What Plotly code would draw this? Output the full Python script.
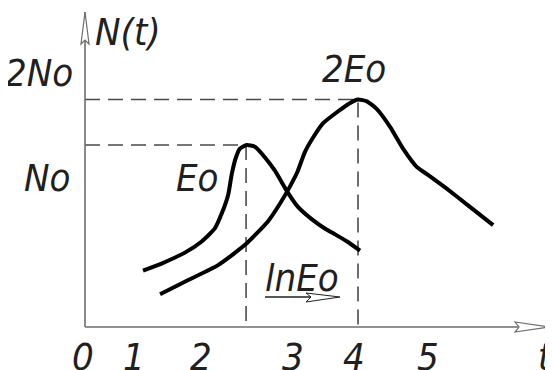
import plotly.graph_objects as go

# curve for Eo (single energy)
t_eo = [0.85, 1.13, 1.47, 1.71, 1.90, 2.01, 2.10, 2.15, 2.21, 2.27, 2.37, 2.49, 2.64,
        2.78, 2.97, 3.12, 3.33, 3.52, 3.66, 3.84, 4.03]
n_eo = [0.31, 0.35, 0.41, 0.47, 0.54, 0.63, 0.73, 0.84, 0.93, 0.98, 1.00, 0.99, 0.93,
        0.86, 0.74, 0.66, 0.59, 0.54, 0.51, 0.47, 0.42]

# curve for 2Eo
t_2eo = [1.10, 1.47, 1.95, 2.34, 2.68, 2.86, 3.00, 3.11, 3.22, 3.34, 3.49, 3.69, 3.88,
         4.00, 4.13, 4.27, 4.47, 4.66, 4.86, 5.01, 5.30, 5.64, 5.98]
n_2eo = [0.18, 0.25, 0.34, 0.45, 0.58, 0.68, 0.77, 0.85, 0.96, 1.04, 1.12, 1.18, 1.23,
         1.25, 1.24, 1.20, 1.10, 0.98, 0.88, 0.84, 0.76, 0.66, 0.56]

peak_t = [2.36, 4.00]
peak_n = [1.00, 1.25]
peak_labels = ['Eo', '2Eo']
level_labels = ['No', '2No']

tick_t = [-0.03, 0.72, 1.70, 3.05, 3.94, 5.03, 6.74]
tick_text = ['0', '1', '2', '3', '4', '5', 't']

# page pixel -> axis units; the page body has an 8px margin
X0, SX = 85, 68.25
Y0, SY = 327, 182.0
W, H = 553, 370
BODY = 8


def px(x, y):
    return (x - X0) / SX, (Y0 - y) / SY


FONT = dict(family='DejaVu Sans Condensed, Liberation Sans Narrow, sans-serif',
            size=38, color='#202020', style='italic')
AXIS_COL = '#6e6e6e'
DASH_COL = '#4a4a4a'

fig = go.Figure()

# dashed guide lines from the peaks
for t, n in zip(peak_t, peak_n):
    fig.add_trace(go.Scatter(x=[0, t, t], y=[n, n, 0], mode='lines',
                             line=dict(color=DASH_COL, width=1.6, dash='15px,8px'),
                             hoverinfo='skip', showlegend=False))

for tt, nn in [(t_eo, n_eo), (t_2eo, n_2eo)]:
    fig.add_trace(go.Scatter(x=tt, y=nn, mode='lines',
                             line=dict(color='black', width=4, shape='spline', smoothing=0.5),
                             showlegend=False))

# axes with open arrow heads
xa_end, _ = px(550, 0)
_, ya_end = px(0, 12)
shapes = [
    dict(type='line', x0=0, y0=0, x1=xa_end, y1=0, line=dict(color=AXIS_COL, width=1.6)),
    dict(type='line', x0=0, y0=0, x1=0, y1=ya_end, line=dict(color=AXIS_COL, width=1.6)),
]


def path(points):
    pts = [px(*p) for p in points]
    return 'M ' + ' L '.join('{:.4f},{:.4f}'.format(a, b) for a, b in pts) + ' Z'


shapes.append(dict(type='path', path=path([(85, 12), (81, 44), (85, 40), (89, 44)]),
                   line=dict(color=AXIS_COL, width=1.2), fillcolor='white'))
shapes.append(dict(type='path', path=path([(550, 327), (515, 322), (519, 327), (515, 332)]),
                   line=dict(color=AXIS_COL, width=1.2), fillcolor='white'))
# underline + arrow of lnEo
shapes.append(dict(type='line', x0=px(265, 0)[0], y0=px(0, 297)[1], x1=px(322, 0)[0], y1=px(0, 297)[1],
                   line=dict(color='#202020', width=1.6)))
shapes.append(dict(type='path', path=path([(340, 297), (306, 293), (311, 297), (306, 302)]),
                   line=dict(color='#202020', width=1.0), fillcolor='white'))

annotations = []
for lab, t in zip(tick_text, tick_t):
    annotations.append(dict(x=t, y=px(0, 357)[1], text=lab, showarrow=False,
                            xanchor='center', yanchor='middle', font=FONT))

level_shift = [(-13, -33), (-10, 27)]
for lab, n, (dx, dy) in zip(level_labels, peak_n, level_shift):
    annotations.append(dict(x=0, y=n, text=lab, showarrow=False, xanchor='right',
                            yanchor='middle', xshift=dx, yshift=dy, font=FONT))

peak_shift = [(-25, -33), (-4, 31)]
peak_anchor = ['right', 'center']
for lab, t, n, (dx, dy), xa in zip(peak_labels, peak_t, peak_n, peak_shift, peak_anchor):
    annotations.append(dict(x=t, y=n, text=lab, showarrow=False, xanchor=xa,
                            yanchor='middle', xshift=dx, yshift=dy, font=FONT))

annotations.append(dict(x=(peak_t[0] + peak_t[1]) / 2, y=px(0, 278)[1], text='lnEo',
                        showarrow=False, xanchor='center', yanchor='middle', font=FONT))
annotations.append(dict(x=0, y=ya_end, text='N(t)', showarrow=False, xanchor='left',
                        yanchor='top', xshift=8, yshift=4, font=FONT))

x_lo, y_hi = px(BODY, BODY)
x_hi, y_lo = px(BODY + W, BODY + H)
fig.update_layout(
    width=W, height=H, margin=dict(l=0, r=0, t=0, b=0),
    paper_bgcolor='white', plot_bgcolor='white',
    xaxis=dict(range=[x_lo, x_hi], visible=False, fixedrange=True),
    yaxis=dict(range=[y_lo, y_hi], visible=False, fixedrange=True),
    shapes=shapes, annotations=annotations,
)

fig.write_html("out.html")
